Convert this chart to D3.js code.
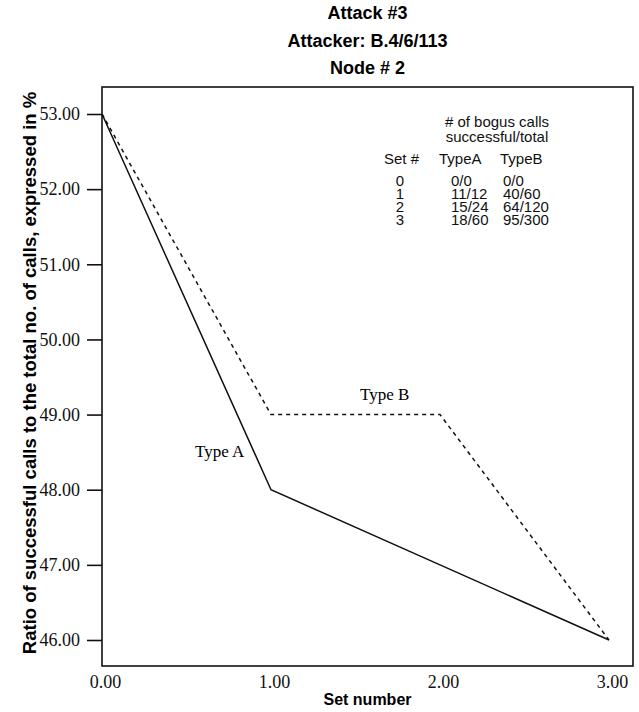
<!DOCTYPE html>
<html lang="en">

<head>
    <meta charset="UTF-8">
    <script src="https://cdnjs.cloudflare.com/ajax/libs/d3/7.9.0/d3.min.js"></script>
    <title>Attack #3</title>
    <style>
        body {
            margin: 0;
            background-color: white;
        }

        svg {
            display: block;
        }

        .serif {
            font-family: "Liberation Serif", "Times New Roman", serif;
        }

        .sans {
            font-family: "Liberation Sans", Arial, sans-serif;
        }
    </style>
</head>

<body>
    <div id="content"></div>
    <script>
        // chart data
        const setNumbers = [0, 1, 2, 3];
        const typeA = [53, 48, 47, 46];
        const typeB = [53, 49, 49, 46];
        const yTicks = [46, 47, 48, 49, 50, 51, 52, 53];
        const xTicks = [0, 1, 2, 3];

        // table of bogus calls
        const tableSets = ["0", "1", "2", "3"];
        const bogusA = ["0/0", "11/12", "15/24", "18/60"];
        const bogusB = ["0/0", "40/60", "64/120", "95/300"];

        const titles = ["Attack #3", "Attacker: B.4/6/113", "Node # 2"];

        const width = 639;
        const height = 712;
        const frame = { left: 102, top: 87, right: 633, bottom: 666 };

        const svg = d3.select("#content").append("svg")
            .attr("width", width)
            .attr("height", height);

        const x = d3.scaleLinear()
            .domain([0, 3])
            .range([102, 609]);

        const y = d3.scaleLinear()
            .domain([46, 53])
            .range([640, 114]);

        // frame
        svg.append("rect")
            .attr("x", frame.left)
            .attr("y", frame.top)
            .attr("width", frame.right - frame.left)
            .attr("height", frame.bottom - frame.top)
            .attr("fill", "none")
            .attr("stroke", "#111")
            .attr("stroke-width", 1.6);

        // y axis
        const yAxis = d3.axisLeft(y)
            .tickValues(yTicks)
            .tickSize(15)
            .tickPadding(7)
            .tickFormat(d3.format(".2f"));
        const gy = svg.append("g")
            .attr("transform", `translate(${frame.left}, 0)`)
            .call(yAxis);
        gy.select(".domain").remove();
        gy.selectAll(".tick line").attr("stroke", "#111").attr("stroke-width", 1.6);
        gy.selectAll(".tick text")
            .attr("class", "serif")
            .attr("font-size", 18)
            .attr("fill", "#111");

        // x axis (labels only)
        const xAxis = d3.axisBottom(x)
            .tickValues(xTicks)
            .tickSize(0)
            .tickPadding(9)
            .tickFormat(d3.format(".2f"));
        const gx = svg.append("g")
            .attr("transform", `translate(3, ${frame.bottom})`)
            .call(xAxis);
        gx.select(".domain").remove();
        gx.selectAll(".tick text")
            .attr("class", "serif")
            .attr("font-size", 18)
            .attr("fill", "#111");

        // lines
        const line = d3.line()
            .x((d, i) => x(setNumbers[i]))
            .y(d => y(d));

        svg.append("path")
            .datum(typeA)
            .attr("d", line)
            .attr("fill", "none")
            .attr("stroke", "#111")
            .attr("stroke-width", 1.5);

        svg.append("path")
            .datum(typeB)
            .attr("d", line)
            .attr("fill", "none")
            .attr("stroke", "#111")
            .attr("stroke-width", 1.5)
            .attr("stroke-dasharray", "4,4");

        // series labels
        svg.append("text")
            .attr("class", "serif")
            .attr("x", x(0.55))
            .attr("y", y(48.43))
            .attr("font-size", 17)
            .text("Type A");

        svg.append("text")
            .attr("class", "serif")
            .attr("x", x(1.527))
            .attr("y", y(49.19))
            .attr("font-size", 17)
            .text("Type B");

        // titles
        svg.selectAll("text.title")
            .data(titles)
            .enter()
            .append("text")
            .attr("class", "sans title")
            .attr("x", (frame.left + frame.right) / 2)
            .attr("y", (d, i) => 19 + i * 27.5)
            .attr("text-anchor", "middle")
            .attr("font-size", 18)
            .attr("font-weight", "bold")
            .text(d => d);

        // axis titles
        svg.append("text")
            .attr("class", "sans")
            .attr("x", (frame.left + frame.right) / 2)
            .attr("y", 705)
            .attr("text-anchor", "middle")
            .attr("font-size", 16)
            .attr("font-weight", "bold")
            .text("Set number");

        svg.append("text")
            .attr("class", "sans")
            .attr("transform", "translate(36, 373) rotate(-90)")
            .attr("text-anchor", "middle")
            .attr("font-size", 18.5)
            .attr("font-weight", "bold")
            .text("Ratio of successful calls to the total no. of calls, expressed in %");

        // table in the corner
        const table = svg.append("g").attr("class", "sans").attr("font-size", 15).attr("fill", "#111");
        table.append("text").attr("x", 497).attr("y", 127).attr("text-anchor", "middle").text("# of bogus calls");
        table.append("text").attr("x", 497).attr("y", 142).attr("text-anchor", "middle").text("successful/total");
        table.append("text").attr("x", 384).attr("y", 164).text("Set #");
        table.append("text").attr("x", 439).attr("y", 164).text("TypeA");
        table.append("text").attr("x", 500).attr("y", 164).text("TypeB");

        tableSets.forEach((s, i) => {
            const rowY = 186 + i * 13;
            table.append("text").attr("x", 400).attr("y", rowY).attr("text-anchor", "middle").text(s);
            table.append("text").attr("x", 451).attr("y", rowY).text(bogusA[i]);
            table.append("text").attr("x", 503).attr("y", rowY).text(bogusB[i]);
        });
    </script>

</body>

</html>
